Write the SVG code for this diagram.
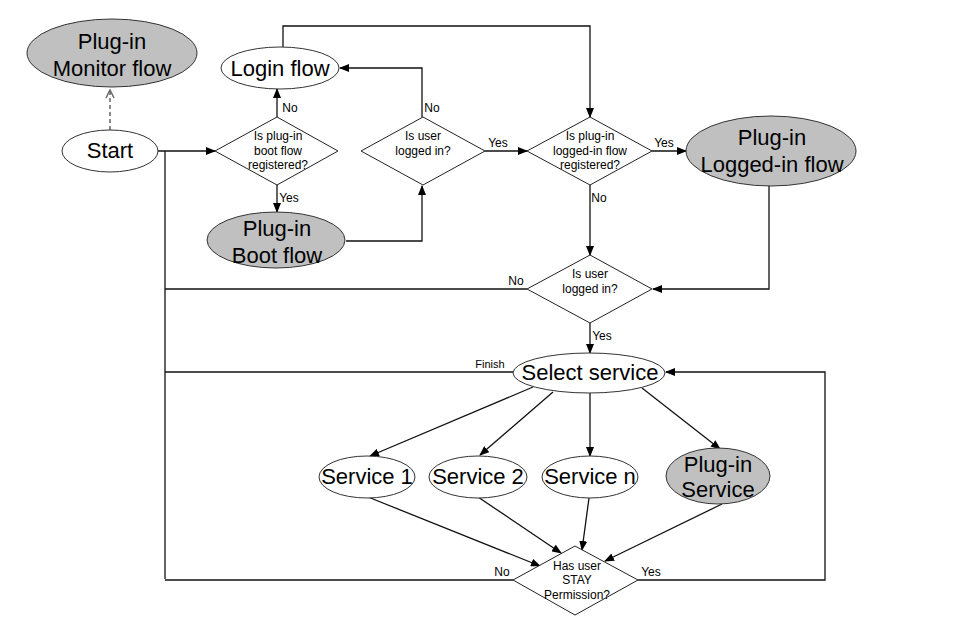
<svg xmlns="http://www.w3.org/2000/svg" width="959" height="629" viewBox="0 0 959 629">
  <defs>
    <marker id="arr" markerWidth="10" markerHeight="8" refX="9" refY="4" orient="auto" markerUnits="userSpaceOnUse">
      <path d="M0,0 L10,4 L0,8 z" fill="#000"/>
    </marker>
    <marker id="open" markerWidth="10" markerHeight="10" refX="9" refY="5" orient="auto" markerUnits="userSpaceOnUse">
      <path d="M1,1 L9,5 L1,9" fill="none" stroke="#666" stroke-width="1.5"/>
    </marker>
  </defs>
  <style>
    .term { fill: #fff; stroke: #333; stroke-width: 1; }
    .plug { fill: #c0c0c0; stroke: #333; stroke-width: 1; }
    .dec { fill: #fff; stroke: #222; stroke-width: 1; }
    .big { font-family: "Liberation Sans", Arial, sans-serif; font-size: 22px; fill: #000; text-anchor: middle; }
    .q { font-family: "Liberation Sans", Arial, sans-serif; font-size: 12px; fill: #000; text-anchor: middle; }
    .lbl { font-family: "Liberation Sans", Arial, sans-serif; font-size: 12px; fill: #000; text-anchor: middle; }
    .conn { fill: none; stroke: #111; stroke-width: 1.3; }
    .dash { fill: none; stroke: #666; stroke-width: 1.5; stroke-dasharray: 4 3; }
  </style>
  <rect width="959" height="629" fill="#fff"/>

  <!-- connectors -->
  <g id="connectors">
    <line class="dash" x1="110" y1="130" x2="110" y2="90" marker-end="url(#open)"/>
    <line class="conn" x1="158" y1="151" x2="215" y2="151" marker-end="url(#arr)"/>
    <polyline class="conn" points="165,151 165,579"/>
    <line class="conn" x1="277" y1="117" x2="277" y2="89" marker-end="url(#arr)"/>
    <line class="conn" x1="277" y1="185" x2="277" y2="212" marker-end="url(#arr)"/>
    <polyline class="conn" points="346,241 422,241 422,186" marker-end="url(#arr)"/>
    <polyline class="conn" points="422,117 422,68 340,68" marker-end="url(#arr)"/>
    <line class="conn" x1="485" y1="151" x2="527" y2="151" marker-end="url(#arr)"/>
    <polyline class="conn" points="283,47 283,26 590,26 590,117" marker-end="url(#arr)"/>
    <line class="conn" x1="652" y1="151" x2="686" y2="151" marker-end="url(#arr)"/>
    <line class="conn" x1="590" y1="185" x2="590" y2="255" marker-end="url(#arr)"/>
    <polyline class="conn" points="769,186 769,289 653,289" marker-end="url(#arr)"/>
    <line class="conn" x1="527" y1="289" x2="165" y2="289"/>
    <line class="conn" x1="590" y1="323" x2="590" y2="353" marker-end="url(#arr)"/>
    <line class="conn" x1="513" y1="372" x2="165" y2="372"/>
    <line class="conn" x1="533" y1="387" x2="370" y2="456" marker-end="url(#arr)"/>
    <line class="conn" x1="553" y1="392" x2="480" y2="455" marker-end="url(#arr)"/>
    <line class="conn" x1="590" y1="393" x2="590" y2="456" marker-end="url(#arr)"/>
    <line class="conn" x1="642" y1="388" x2="720" y2="449" marker-end="url(#arr)"/>
    <line class="conn" x1="368" y1="497" x2="540" y2="566" marker-end="url(#arr)"/>
    <line class="conn" x1="478" y1="497" x2="561" y2="553" marker-end="url(#arr)"/>
    <line class="conn" x1="589" y1="498" x2="582" y2="550" marker-end="url(#arr)"/>
    <line class="conn" x1="722" y1="504" x2="605" y2="561" marker-end="url(#arr)"/>
    <line class="conn" x1="513" y1="580" x2="165" y2="580"/>
    <polyline class="conn" points="638,580 825,580 825,372 666,372" marker-end="url(#arr)"/>

    <text class="lbl" x="290" y="112">No</text>
    <text class="lbl" x="289" y="202">Yes</text>
    <text class="lbl" x="432" y="112">No</text>
    <text class="lbl" x="498" y="147">Yes</text>
    <text class="lbl" x="664" y="147">Yes</text>
    <text class="lbl" x="599" y="202">No</text>
    <text class="lbl" x="516" y="285">No</text>
    <text class="lbl" x="602" y="340">Yes</text>
    <text class="lbl" x="490" y="368" style="font-size:11px">Finish</text>
    <text class="lbl" x="502" y="576">No</text>
    <text class="lbl" x="651" y="576">Yes</text>
  </g>

  <!-- nodes -->
  <g id="monitor-flow">
    <ellipse class="plug" cx="112" cy="53" rx="85" ry="34"/>
    <text class="big" x="112" y="49">Plug-in</text>
    <text class="big" x="112" y="76">Monitor flow</text>
  </g>
  <g id="start">
    <ellipse class="term" cx="110" cy="151" rx="48" ry="21"/>
    <text class="big" x="110" y="158">Start</text>
  </g>
  <g id="login-flow">
    <ellipse class="term" cx="280" cy="68" rx="59" ry="21"/>
    <text class="big" x="280" y="76">Login flow</text>
  </g>
  <g id="boot-registered">
    <polygon class="dec" points="277,117 338,151 277,185 215,151"/>
    <text class="q" x="278" y="140">Is plug-in</text>
    <text class="q" x="278" y="155">boot flow</text>
    <text class="q" x="278" y="169">registered?</text>
  </g>
  <g id="boot-flow">
    <ellipse class="plug" cx="276" cy="240" rx="69" ry="28"/>
    <text class="big" x="277" y="236">Plug-in</text>
    <text class="big" x="277" y="263">Boot flow</text>
  </g>
  <g id="logged-in-1">
    <polygon class="dec" points="423,117 485,151 423,185 361,151"/>
    <text class="q" x="423" y="140">Is user</text>
    <text class="q" x="423" y="155">logged in?</text>
  </g>
  <g id="loggedin-registered">
    <polygon class="dec" points="590,117 652,151 590,185 527,151"/>
    <text class="q" x="590" y="140">Is plug-in</text>
    <text class="q" x="590" y="155">logged-in flow</text>
    <text class="q" x="590" y="169">registered?</text>
  </g>
  <g id="loggedin-flow">
    <ellipse class="plug" cx="771" cy="151" rx="85" ry="35"/>
    <text class="big" x="772" y="145">Plug-in</text>
    <text class="big" x="772" y="172">Logged-in flow</text>
  </g>
  <g id="logged-in-2">
    <polygon class="dec" points="590,255 652,289 590,323 527,289"/>
    <text class="q" x="590" y="278">Is user</text>
    <text class="q" x="590" y="293">logged in?</text>
  </g>
  <g id="select-service">
    <ellipse class="term" cx="589" cy="373" rx="76" ry="20"/>
    <text class="big" x="590" y="380">Select service</text>
  </g>
  <g id="service-1">
    <ellipse class="term" cx="367" cy="477" rx="48" ry="21"/>
    <text class="big" x="367" y="484">Service 1</text>
  </g>
  <g id="service-2">
    <ellipse class="term" cx="478" cy="477" rx="49" ry="21"/>
    <text class="big" x="478" y="484">Service 2</text>
  </g>
  <g id="service-n">
    <ellipse class="term" cx="590" cy="477" rx="48" ry="21"/>
    <text class="big" x="590" y="484">Service n</text>
  </g>
  <g id="plugin-service">
    <ellipse class="plug" cx="718" cy="476" rx="52" ry="28"/>
    <text class="big" x="718" y="472">Plug-in</text>
    <text class="big" x="718" y="497">Service</text>
  </g>
  <g id="stay-permission">
    <polygon class="dec" points="575,546 638,580 575,615 513,580"/>
    <text class="q" x="577" y="570">Has user</text>
    <text class="q" x="577" y="584">STAY</text>
    <text class="q" x="577" y="599">Permission?</text>
  </g>
</svg>
